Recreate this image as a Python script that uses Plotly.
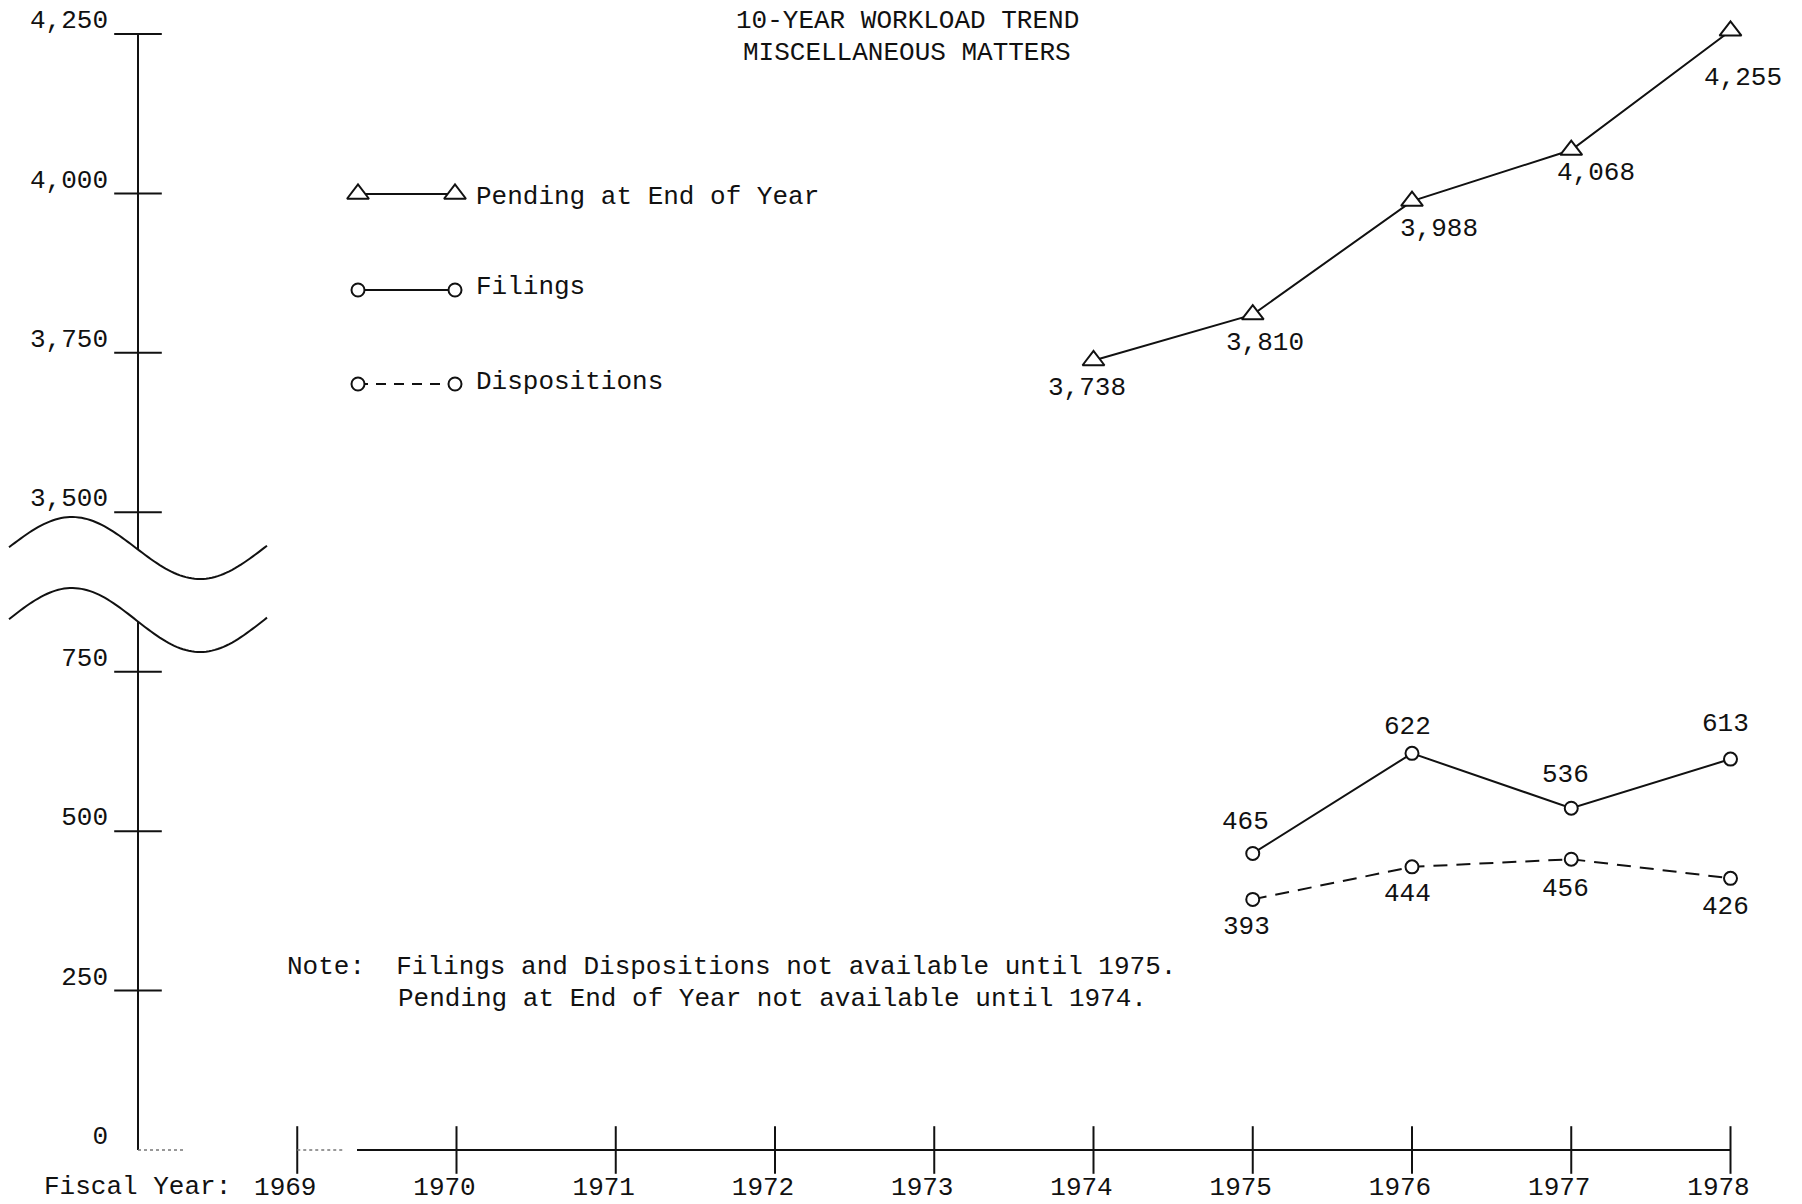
import numpy as np
import plotly.graph_objects as go

# ---------------- data ----------------
YEARS_PENDING = [1974, 1975, 1976, 1977, 1978]
PENDING = [3738, 3810, 3988, 4068, 4255]
YEARS_FD = [1975, 1976, 1977, 1978]
FILINGS = [465, 622, 536, 613]
DISPOSITIONS = [393, 444, 456, 426]
X_TICKS = [1969, 1970, 1971, 1972, 1973, 1974, 1975, 1976, 1977, 1978]
Y_TICKS_LOWER = [0, 250, 500, 750]
Y_TICKS_UPPER = [3500, 3750, 4000, 4250]
TITLE_LINES = ["10-YEAR WORKLOAD TREND", "MISCELLANEOUS MATTERS"]
NOTE_LINES = ["Note:  Filings and Dispositions not available until 1975.",
              "Pending at End of Year not available until 1974."]
LEGEND_LABELS = ["Pending at End of Year", "Filings", "Dispositions"]
X_PREFIX = "Fiscal Year:"

# ---------------- geometry / style (pixels) ----------------
W, H = 1802, 1204
L_PX, R_PX = 138, 1770
T_PX, B_PX = 10, 1154
ZERO_PX, TOP_TICK_PX = 1150, 34
YSP = (ZERO_PX - TOP_TICK_PX) / 7.0      # pixels per 250 units
XSP = 159.25                              # pixels per year
X_START = 1968
X_END = X_START + (R_PX - L_PX) / XSP
FONT = "Liberation Mono, Courier New, monospace"
FS = 26
INK = "#111111"


def fx(px):
    return (px - L_PX) / (R_PX - L_PX)


def fy(py):
    return (B_PX - py) / (B_PX - T_PX)


def wave(x, c, a):
    return c - a * np.sin(2 * np.pi * (x - 8) / 256.0)


UP_C, LO_C = 548, 620
up_cross = float(wave(L_PX, UP_C, 31))
lo_cross = float(wave(L_PX, LO_C, 32))


def low_val(py):
    return (ZERO_PX - py) / YSP * 250


def up_val(py):
    return 4250 - (py - TOP_TICK_PX) / YSP * 250


fig = go.Figure()

# ---- series ----
def series(x, y, xa, ya, symbol, size, dash="solid"):
    return go.Scatter(
        x=x, y=y, xaxis=xa, yaxis=ya, mode="lines+markers",
        line=dict(color=INK, width=2, dash=dash),
        marker=dict(symbol=symbol, size=size, color="white",
                    line=dict(color=INK, width=2)),
        cliponaxis=False, hoverinfo="skip", showlegend=False)


fig.add_trace(series(YEARS_PENDING, PENDING, "x2", "y2", "triangle-up", 19))
fig.add_trace(series(YEARS_FD, FILINGS, "x", "y", "circle", 13))
fig.add_trace(series(YEARS_FD, DISPOSITIONS, "x", "y", "circle", 13, "14px,9px"))

# ---- tick marks crossing the axes ----
def tickmarks(x, y, xa, ya, symbol):
    return go.Scatter(x=x, y=y, xaxis=xa, yaxis=ya, mode="markers",
                      marker=dict(symbol=symbol, size=34, color=INK,
                                  line=dict(color=INK, width=2)),
                      cliponaxis=False, hoverinfo="skip", showlegend=False)


low_marked = [v for v in Y_TICKS_LOWER if v > 0]
fig.add_trace(tickmarks([X_START] * len(low_marked), low_marked, "x", "y", "line-ew"))
fig.add_trace(tickmarks([X_START] * len(Y_TICKS_UPPER), Y_TICKS_UPPER, "x2", "y2", "line-ew"))
fig.add_trace(tickmarks(X_TICKS, [0] * len(X_TICKS), "x", "y", "line-ns"))

# ---- legend (drawn by hand on a pixel helper axis) ----
LEG_ROWS_Y = [194, 290, 384]
LEG_X = [358, 455]
LEG_TEXT_X = 474
LEG_TEXT_Y = [197, 287, 382]
leg_styles = [("triangle-up", 19, "solid"), ("circle", 13, "solid"), ("circle", 13, "10px,8px")]
for ry, (sym, sz, dash) in zip(LEG_ROWS_Y, leg_styles):
    fig.add_trace(series(LEG_X, [ry, ry], "x3", "y3", sym, sz, dash))

annotations = []
for label, ty in zip(LEGEND_LABELS, LEG_TEXT_Y):
    annotations.append(dict(text=label, x=fx(LEG_TEXT_X), y=fy(ty), xref="paper", yref="paper",
                            xanchor="left", yanchor="middle", showarrow=False,
                            font=dict(family=FONT, size=FS, color=INK)))

# ---- data labels ----
PEND_OFF = [(-7, 27), (12, 28), (27, 28), (25, 23), (12, 47)]
FIL_OFF = [(-7, -31), (-5, -26), (-6, -33), (-5, -35)]
DISP_OFF = [(-6, 28), (-5, 27), (-6, 30), (-5, 29)]
for xs, ys, offs, xa, ya in [(YEARS_PENDING, PENDING, PEND_OFF, "x2", "y2"),
                             (YEARS_FD, FILINGS, FIL_OFF, "x", "y"),
                             (YEARS_FD, DISPOSITIONS, DISP_OFF, "x", "y")]:
    for xv, yv, (dx, dy) in zip(xs, ys, offs):
        annotations.append(dict(text=f"{yv:,}", x=xv, y=yv, xref=xa, yref=ya,
                                xshift=dx, yshift=-dy, showarrow=False,
                                xanchor="center", yanchor="middle",
                                font=dict(family=FONT, size=FS, color=INK)))

# ---- title, note, axis prefix ----
for line, ty in zip(TITLE_LINES, [21, 53]):
    annotations.append(dict(text=line, x=fx(907), y=fy(ty), xref="paper", yref="paper",
                            xanchor="center", yanchor="middle", showarrow=False,
                            font=dict(family=FONT, size=FS, color=INK)))
for line, (tx, ty) in zip(NOTE_LINES, [(285, 967), (396, 999)]):
    annotations.append(dict(text=line, x=fx(tx), y=fy(ty), xref="paper", yref="paper",
                            xanchor="left", yanchor="middle", showarrow=False,
                            font=dict(family=FONT, size=FS, color=INK)))
annotations.append(dict(text=X_PREFIX, x=fx(42), y=fy(1187), xref="paper", yref="paper",
                        xanchor="left", yanchor="middle", showarrow=False,
                        font=dict(family=FONT, size=FS, color=INK)))

# ---- shapes: broken y-axis, break waves, baseline ----
shapes = []
shapes.append(dict(type="line", xref="paper", yref="paper", x0=0, x1=0,
                   y0=fy(TOP_TICK_PX), y1=fy(up_cross), line=dict(color=INK, width=2)))
shapes.append(dict(type="line", xref="paper", yref="paper", x0=0, x1=0,
                   y0=fy(lo_cross), y1=fy(ZERO_PX), line=dict(color=INK, width=2)))
wx = np.linspace(9, 267, 90)
for c, a in [(UP_C, 31), (LO_C, 32)]:
    wy = wave(wx, c, a)
    path = "M " + " L ".join(f"{fx(px):.5f},{fy(py):.5f}" for px, py in zip(wx, wy))
    shapes.append(dict(type="path", xref="paper", yref="paper", path=path,
                       line=dict(color=INK, width=2)))
shapes.append(dict(type="line", xref="x", yref="y", x0=X_START + (357 - L_PX) / XSP, x1=X_TICKS[-1],
                   y0=0, y1=0, line=dict(color=INK, width=2)))
shapes.append(dict(type="line", xref="x", yref="y", x0=X_START, x1=X_START + 0.3,
                   y0=0, y1=0, line=dict(color="#777777", width=1.5, dash="dot")))
shapes.append(dict(type="line", xref="x", yref="y", x0=X_TICKS[0], x1=X_TICKS[0] + 0.3,
                   y0=0, y1=0, line=dict(color="#777777", width=1.5, dash="dot")))

tickfont = dict(family=FONT, size=FS, color=INK)
fig.update_layout(
    width=W, height=H,
    margin=dict(l=L_PX, r=W - R_PX, t=T_PX, b=H - B_PX, pad=0, autoexpand=False),
    paper_bgcolor="white", plot_bgcolor="rgba(0,0,0,0)",
    showlegend=False,
    xaxis=dict(domain=[0, 1], range=[X_START, X_END], anchor="y", automargin=False,
               tickmode="array", tickvals=X_TICKS, ticks="",
               showline=False, showgrid=False, zeroline=False,
               tickfont=tickfont, ticklabelstandoff=14, ticklabelshift=-12),
    xaxis2=dict(domain=[0, 1], range=[X_START, X_END], anchor="y2", matches="x",
                visible=False, automargin=False),
    yaxis=dict(domain=[0, fy(lo_cross)], range=[low_val(B_PX), low_val(lo_cross)], anchor="x",
               automargin=False,
               tickmode="array", tickvals=Y_TICKS_LOWER, tickformat=",", ticks="",
               showline=False, showgrid=False, zeroline=False,
               tickfont=tickfont, ticklabelstandoff=29, ticklabelshift=-15),
    yaxis2=dict(domain=[fy(up_cross), 1], range=[up_val(up_cross), up_val(T_PX)], anchor="x2",
                automargin=False,
                tickmode="array", tickvals=Y_TICKS_UPPER, tickformat=",", ticks="",
                showline=False, showgrid=False, zeroline=False,
                tickfont=tickfont, ticklabelstandoff=29, ticklabelshift=-15),
    xaxis3=dict(domain=[0, 1], range=[L_PX, R_PX], anchor="y3", visible=False, automargin=False),
    yaxis3=dict(domain=[0, 1], range=[B_PX, T_PX], anchor="x3", visible=False, automargin=False),
    annotations=annotations,
    shapes=shapes,
)

fig.write_html("out.html", config={"displayModeBar": False},
               post_script="document.body.style.margin='0';")
